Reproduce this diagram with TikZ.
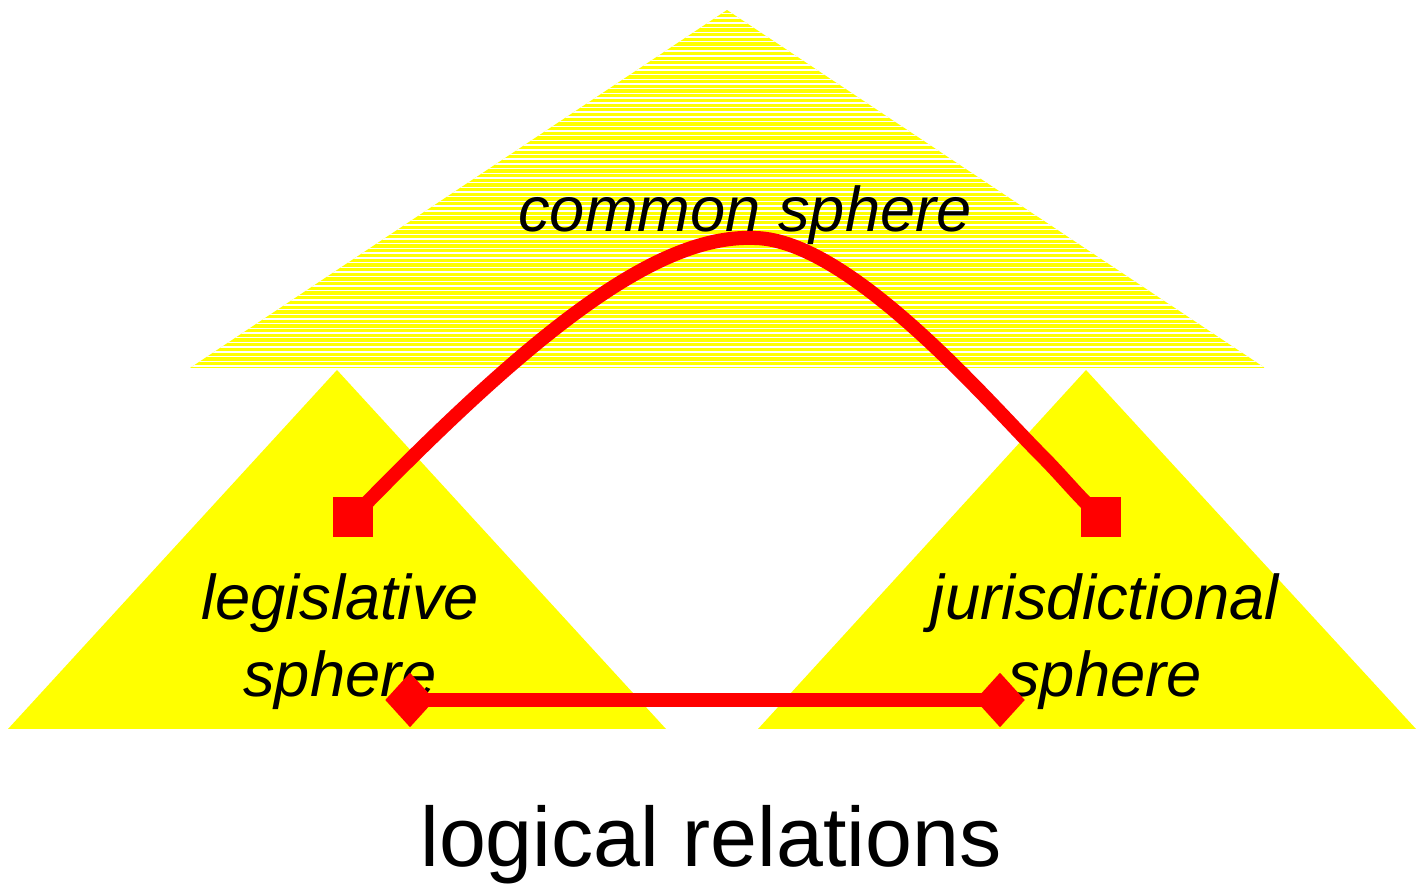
\documentclass[tikz,border=0pt]{standalone}
\usepackage{fontspec}
\setmainfont{Liberation Sans}
\usetikzlibrary{shapes.geometric}

\definecolor{sphereyellow}{RGB}{255,255,0}
\definecolor{relred}{RGB}{255,0,0}

\tikzset{
  sphere/.style={fill=sphereyellow, draw=none},
  spherelabel/.style={font=\itshape\fontsize{18}{22}\selectfont, align=center, anchor=base, inner sep=0pt},
  endsquare/.style={rectangle, fill=relred, minimum size=0.4cm, inner sep=0pt},
  enddiamond/.style={diamond, fill=relred, minimum width=0.5cm, minimum height=0.55cm, inner sep=0pt},
  relation/.style={draw=relred, line width=4pt}
}

\begin{document}
\begin{tikzpicture}
  \useasboundingbox (0,0) rectangle (14.27,8.84);

  % Gemeinsame Sphaere (gestreift)
  \begin{scope}
    \clip (1.90,5.16) -- (7.27,8.74) -- (12.65,5.16) -- cycle;
    \fill[sphere] (1.90,5.16) rectangle (12.65,8.74);
    \foreach \i in {0,...,76}
      \draw[white, line width=0.4pt] (1.8,5.18+0.047*\i) -- (12.8,5.18+0.047*\i);
  \end{scope}

  % Legislative und jurisdiktionelle Sphaere
  \fill[sphere] (0.08,1.55) -- (3.37,5.14) -- (6.66,1.55) -- cycle;
  \fill[sphere] (7.58,1.55) -- (10.86,5.14) -- (14.16,1.55) -- cycle;

  % Beschriftungen
  \node[spherelabel] (common) at (7.45,6.52) {common sphere};
  \node[spherelabel] (legis) at (3.40,1.87) {legislative\\sphere};
  \node[spherelabel] (juris) at (11.05,1.87) {jurisdictional\\sphere};

  % Endpunkte
  \node[endsquare] (lsq) at (3.53,3.67) {};
  \node[endsquare] (rsq) at (11.01,3.67) {};
  \node[enddiamond] (ldia) at (4.10,1.84) {};
  \node[enddiamond] (rdia) at (10.00,1.84) {};

  % Bogen ueber die gemeinsame Sphaere
  \draw[relation] (lsq.center) .. controls (5.4,5.6) and (6.6,6.5) .. (7.55,6.46)
    .. controls (8.5,6.44) and (9.9,4.8) .. (10.4,4.3)
    .. controls (10.65,4.05) and (10.8,3.85) .. (rsq.center);

  % Direkte Verbindung
  \draw[relation] (ldia.center) -- (rdia.center);

  % Titel
  \node[font=\fontsize{24}{28}\selectfont, anchor=base, inner sep=0pt] (title) at (7.11,0.18) {logical relations};
\end{tikzpicture}
\end{document}
